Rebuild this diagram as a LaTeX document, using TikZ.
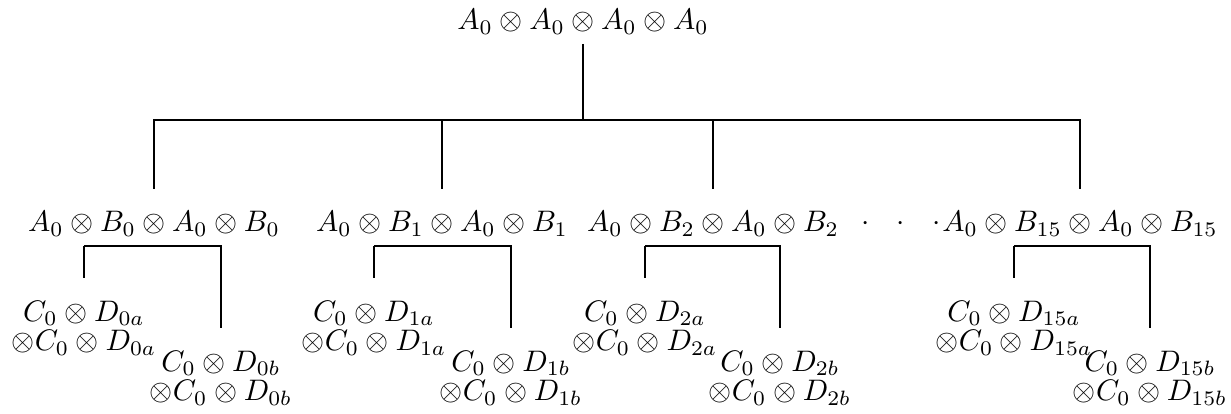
\documentclass[tikz,border=0pt]{standalone}
\begin{document}
\begin{tikzpicture}[x=0.01184cm, y=-0.01184cm,
    prod/.style={inner sep=1pt},
    leaf/.style={inner sep=1pt, align=center},
    link/.style={line width=0.6pt},
    drop/.style={link, shorten >=6.5pt}]
  \useasboundingbox (0,0) rectangle (1231,413);
  % Root
  \node[prod] (root) at (583,22) {$A_0\otimes A_0\otimes A_0\otimes A_0$};
  \coordinate (bus) at (583,120);
  \draw[link, shorten <=2pt] (root) -- (bus);
  % Second level with its two leaves
  \foreach \k/\xm/\xa/\xb in {0/154/84/221, 1/442/374/511, 2/713/645/780, 15/1080/1014/1150}{
    \node[prod] (b\k) at (\xm,224) {$A_0\otimes B_{\k}\otimes A_0\otimes B_{\k}$};
    \draw[drop] (bus) -| (b\k.north);
    \node[leaf] (d\k a) at (\xa,328) {$C_0\otimes D_{\k a}$\\[-2pt]$\otimes C_0\otimes D_{\k a}$};
    \node[leaf] (d\k b) at (\xb,378) {$C_0\otimes D_{\k b}$\\[-2pt]$\otimes C_0\otimes D_{\k b}$};
    \draw[drop] ([yshift=-2pt]d\k a.north |- b\k.south) -- (d\k a.north);
    \draw[drop] ([yshift=-2pt]d\k a.north |- b\k.south) -- ([yshift=-2pt]d\k b.north |- b\k.south) -- (d\k b.north);
  }
  % Skipped branches
  \node[inner sep=0pt] (dots) at (901,224) {$\cdot\hspace{7pt}\cdot\hspace{7pt}\cdot$};
\end{tikzpicture}
\end{document}
